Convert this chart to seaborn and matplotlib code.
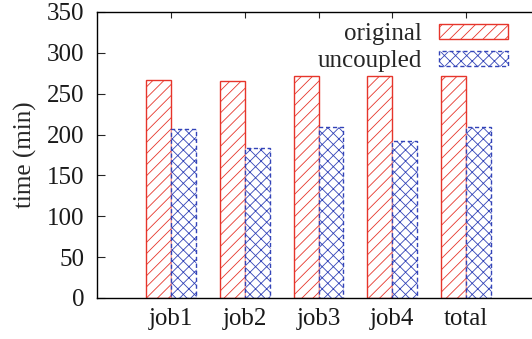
import matplotlib
matplotlib.use("Agg")
import matplotlib.pyplot as plt
import seaborn as sns
import pandas as pd
from matplotlib.patches import Patch

jobs = ["job1", "job2", "job3", "job4", "total"]
original = [267, 265, 272, 272, 272]
uncoupled = [207, 183, 209, 192, 209]
series_names = ["original", "uncoupled"]

df = pd.DataFrame({
    "job": jobs * 2,
    "time": original + uncoupled,
    "type": [series_names[0]] * len(jobs) + [series_names[1]] * len(jobs),
})

sns.set_style("ticks")
plt.rcParams["font.family"] = ["Liberation Serif", "DejaVu Serif"]
plt.rcParams["hatch.linewidth"] = 0.6
FS = 18

red = "#e6352b"
blue = "#3344b8"

fig = plt.figure(figsize=(5.32, 3.39), dpi=100)
ax = fig.add_axes([97 / 532, 41 / 339, (540 - 97) / 532, 286 / 339])

sns.barplot(data=df, x="job", y="time", hue="type", order=jobs,
            hue_order=series_names, width=0.676, gap=0, ax=ax,
            legend=False, saturation=1)

styles = {
    0: dict(edgecolor=red, hatch="///", linestyle="-"),
    1: dict(edgecolor=blue, hatch="xxx", linestyle=(0, (3, 2))),
}
for i, cont in enumerate(ax.containers):
    for bar in cont:
        bar.set_facecolor("white")
        bar.set_edgecolor(styles[i]["edgecolor"])
        bar.set_hatch(styles[i]["hatch"])
        bar.set_linestyle(styles[i]["linestyle"])
        bar.set_linewidth(1.0)

ax.set_xlim(-1, 5)
ax.set_ylim(0, 350)
ax.set_yticks(range(0, 351, 50))
ax.set_xlabel("")
ax.set_ylabel("time (min)", fontsize=FS, labelpad=7)

for s in ax.spines.values():
    s.set_visible(True)
    s.set_linewidth(1.0)
    s.set_color("black")

ax.tick_params(axis="y", direction="in", length=6, width=0.8, labelsize=FS,
               pad=9, right=True, left=True)
ax.tick_params(axis="x", direction="in", length=4.5, width=0.8, labelsize=FS,
               pad=7, top=True, bottom=False, labeltop=False)
for t in ax.get_xticklabels() + ax.get_yticklabels():
    t.set_color("#1a1a1a")

handles = [
    Patch(facecolor="white", edgecolor=red, hatch="///", linewidth=1.0),
    Patch(facecolor="white", edgecolor=blue, hatch="xxx", linewidth=1.0,
          linestyle=(0, (3, 2))),
]
leg = ax.legend(handles, series_names, loc="upper right",
                bbox_to_anchor=(508 / 532, 1 - 23 / 339),
                bbox_transform=fig.transFigure, frameon=False,
                markerfirst=False, fontsize=FS, handlelength=2.75,
                handleheight=0.55, handletextpad=0.7, labelspacing=0.22,
                borderpad=0, borderaxespad=0)

fig.savefig("out.png", dpi=100)
